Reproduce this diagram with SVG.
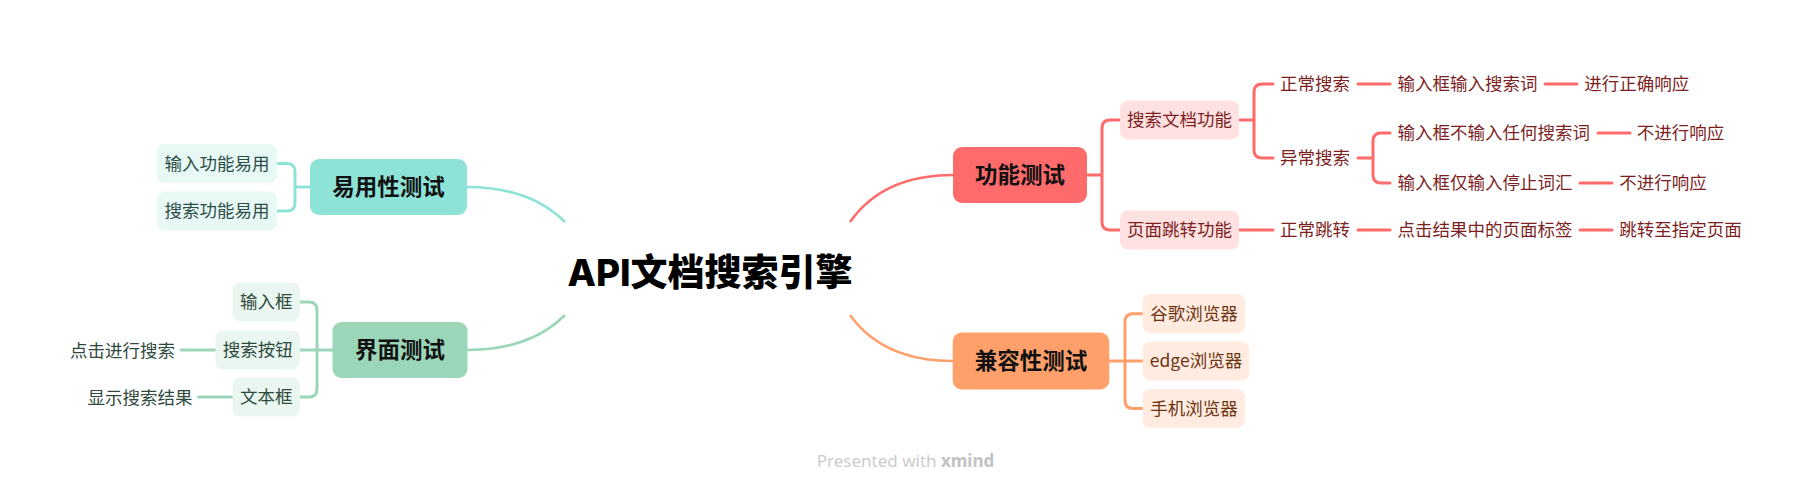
<svg xmlns="http://www.w3.org/2000/svg" width="1812" height="492" viewBox="0 0 1812 492">
<style>
text{font-family:"Noto Sans CJK SC","Noto Sans",sans-serif;}
.sub{font-size:17.5px;text-anchor:middle;}
.main{font-size:22.5px;font-weight:bold;text-anchor:middle;fill:#111;}
.ct{fill:#2d4d48;}
.cg{fill:#2e4a3d;}
.cr{fill:#7d1f1f;}
.co{fill:#6e3514;}
.ln{fill:none;stroke-width:3;stroke-linecap:round;}
.cv{fill:none;stroke-width:2.5;}
.t{stroke:#8ee3d7;}
.g{stroke:#9bd6b9;}
.r{stroke:#ff6b6b;}
.o{stroke:#ffa06b;}
</style>
<rect width="1812" height="492" fill="#ffffff"/>
<g id="connectors">
<path class="cv t" d="M467,187 Q530,187 565,222"/>
<path class="cv g" d="M467,350 Q530,350 565,315"/>
<path class="cv r" d="M850,222 Q883,175 953,175"/>
<path class="cv o" d="M850,315 Q883,361 953,361"/>
<path class="ln t" d="M310,187 H295 M277,163.5 H287 Q295,163.5 295,171.5 V203 Q295,211 287,211 H277"/>
<path class="ln g" d="M332.5,350 H300 M300,302 H309 Q317,302 317,310 V389 Q317,397 309,397 H300"/>
<path class="ln g" d="M181,350 H215.5 M198.5,397 H232.5"/>
<path class="ln r" d="M1087,175 H1102 M1120,120 H1110 Q1102,120 1102,128 V222 Q1102,230 1110,230 H1120"/>
<path class="ln r" d="M1239,120 H1254 M1273,84 H1262 Q1254,84 1254,92 V150 Q1254,158 1262,158 H1273"/>
<path class="ln r" d="M1358,158 H1373 M1390,133 H1381 Q1373,133 1373,141 V175 Q1373,183 1381,183 H1390"/>
<path class="ln r" d="M1358,84 H1390 M1545,84 H1577 M1598,133 H1630 M1580,183 H1612 M1239,230 H1273 M1358,230 H1390 M1580,230 H1612"/>
<path class="ln o" d="M1109.3,361 H1142.7 M1142.7,313.7 H1133 Q1125,313.7 1125,321.7 V400.5 Q1125,408.5 1133,408.5 H1142.7"/>
</g>
<g id="central">
<text x="710" y="286" style="font-family:Inter,'Noto Sans CJK SC',sans-serif;font-size:37px;font-weight:800;text-anchor:middle;fill:#000;">API文档搜索引擎</text>
</g>
<g id="yiyong">
<rect x="310" y="159" width="157" height="56" rx="9" fill="#8ee3d7"/>
<text class="main" x="388.5" y="195">易用性测试</text>
</g>
<g id="yiyong-1">
<rect x="157" y="144" width="120" height="39" rx="8" fill="#e7f8f5"/>
<text class="sub ct" x="217" y="169.8">输入功能易用</text>
</g>
<g id="yiyong-2">
<rect x="157" y="191.5" width="120" height="39" rx="8" fill="#e7f8f5"/>
<text class="sub ct" x="217" y="217.3">搜索功能易用</text>
</g>
<g id="jiemian">
<rect x="332.5" y="322" width="135" height="56" rx="9" fill="#9bd6b9"/>
<text class="main" x="400" y="358">界面测试</text>
</g>
<g id="jiemian-1">
<rect x="232.5" y="282.5" width="67.5" height="39" rx="8" fill="#eaf6f0"/>
<text class="sub cg" x="266.3" y="308.3">输入框</text>
</g>
<g id="jiemian-2">
<rect x="215.5" y="330.5" width="84.5" height="39" rx="8" fill="#eaf6f0"/>
<text class="sub cg" x="257.8" y="356.3">搜索按钮</text>
</g>
<g id="jiemian-3">
<rect x="232.5" y="377.5" width="67.5" height="39" rx="8" fill="#eaf6f0"/>
<text class="sub cg" x="266.3" y="403.3">文本框</text>
</g>
<g id="jiemian-2-1">
<text class="sub cg" x="122.4" y="356.6">点击进行搜索</text>
</g>
<g id="jiemian-3-1">
<text class="sub cg" x="140" y="403.6">显示搜索结果</text>
</g>
<g id="gongneng">
<rect x="953" y="147" width="134" height="56" rx="9" fill="#ff6b6b"/>
<text class="main" x="1020" y="183">功能测试</text>
</g>
<g id="gongneng-1">
<rect x="1120" y="100.5" width="119" height="39" rx="8" fill="#ffe1e1"/>
<text class="sub cr" x="1179.5" y="126.3">搜索文档功能</text>
</g>
<g id="gongneng-2">
<rect x="1120" y="210.5" width="119" height="39" rx="8" fill="#ffe1e1"/>
<text class="sub cr" x="1179.5" y="236.3">页面跳转功能</text>
</g>
<g id="zhengchang-sousuo">
<text class="sub cr" x="1315" y="90.3">正常搜索</text>
</g>
<g id="yichang-sousuo">
<text class="sub cr" x="1315" y="164.3">异常搜索</text>
</g>
<g id="zhengchang-tiaozhuan">
<text class="sub cr" x="1315" y="236.3">正常跳转</text>
</g>
<g id="r1">
<text class="sub cr" x="1467.5" y="90.3">输入框输入搜索词</text>
</g>
<g id="r1-1">
<text class="sub cr" x="1636.7" y="90.3">进行正确响应</text>
</g>
<g id="r2">
<text class="sub cr" x="1493.7" y="139.3">输入框不输入任何搜索词</text>
</g>
<g id="r2-1">
<text class="sub cr" x="1680.5" y="139.3">不进行响应</text>
</g>
<g id="r3">
<text class="sub cr" x="1484.9" y="189.3">输入框仅输入停止词汇</text>
</g>
<g id="r3-1">
<text class="sub cr" x="1663" y="189.3">不进行响应</text>
</g>
<g id="r4">
<text class="sub cr" x="1484.9" y="236.3">点击结果中的页面标签</text>
</g>
<g id="r4-1">
<text class="sub cr" x="1680.5" y="236.3">跳转至指定页面</text>
</g>
<g id="jianrong">
<rect x="952.7" y="332.5" width="156.6" height="57" rx="9" fill="#ffa06b"/>
<text class="main" x="1031" y="369">兼容性测试</text>
</g>
<g id="jianrong-1">
<rect x="1142.7" y="294" width="102.3" height="39.3" rx="8" fill="#ffebdf"/>
<text class="sub co" x="1193.9" y="320">谷歌浏览器</text>
</g>
<g id="jianrong-2">
<rect x="1142.7" y="341.5" width="106.6" height="39" rx="8" fill="#ffebdf"/>
<text class="sub co" x="1196" y="367.3">edge浏览器</text>
</g>
<g id="jianrong-3">
<rect x="1142.7" y="389" width="102.3" height="39" rx="8" fill="#ffebdf"/>
<text class="sub co" x="1193.9" y="414.8">手机浏览器</text>
</g>
<g id="watermark">
<text x="905.5" y="467" style="font-family:'Noto Sans',sans-serif;font-size:17px;text-anchor:middle;fill:#cccccc;">Presented with <tspan style="font-weight:bold;fill:#c2c2c2;">xmind</tspan></text>
</g>
</svg>
